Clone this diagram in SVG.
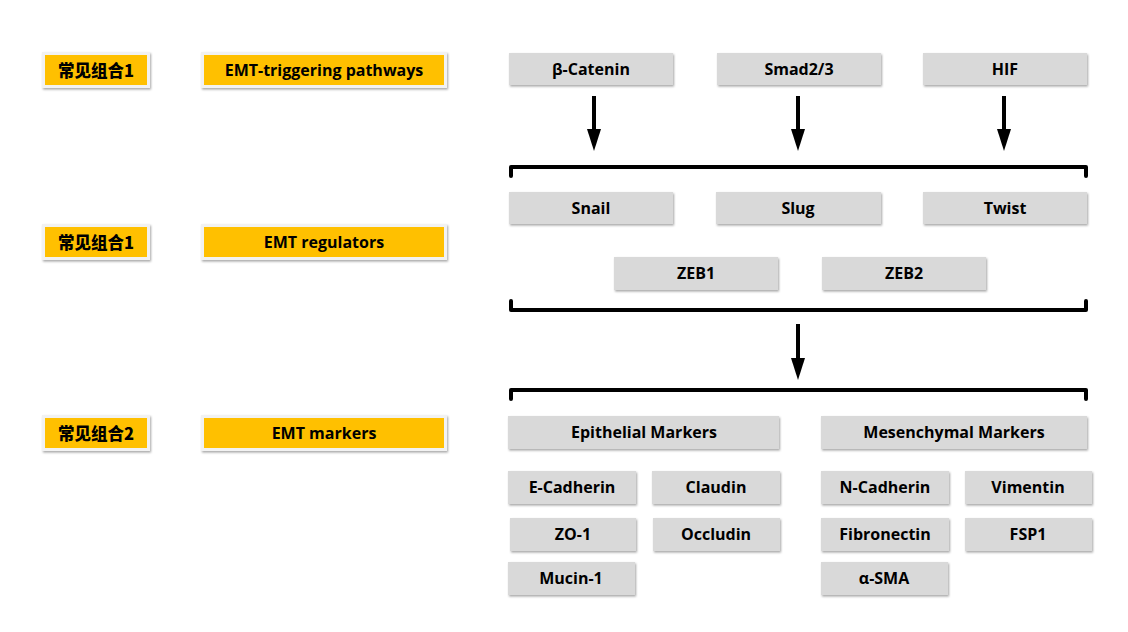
<svg xmlns="http://www.w3.org/2000/svg" width="1128" height="632" viewBox="0 0 1128 632">
<defs>
<filter id="sh" x="-10%" y="-30%" width="120%" height="160%">
<feDropShadow dx="1" dy="1.5" stdDeviation="1.2" flood-color="#000" flood-opacity="0.35"/>
</filter>
<marker id="ah" viewBox="0 0 22 14" refX="0" refY="7" markerWidth="22" markerHeight="14" markerUnits="userSpaceOnUse" orient="auto">
<path d="M0,0 L22,7 L0,14 Z" fill="#000"/>
</marker>
<style>
.g{fill:#d9d9d9;filter:url(#sh)}
.yo{fill:#f2f2f2;filter:url(#sh)}
.y{fill:#ffc000}
text{font-family:"Open Sans","Noto Sans CJK SC",sans-serif;font-weight:700;font-size:16px;fill:#000;text-anchor:middle;dominant-baseline:central}
.cn{font-family:"Noto Sans CJK SC",sans-serif;font-weight:900;font-size:16.5px}
.arr{stroke:#000;stroke-width:4;fill:none;marker-end:url(#ah)}
.br{stroke:#000;stroke-width:4;fill:none;stroke-linejoin:round;stroke-linecap:round}
</style>
</defs>

<g id="label-row1">
<rect class="yo" x="42" y="52" width="108" height="36"/><rect class="y" x="45" y="55" width="102" height="30"/>
<text class="cn" x="96" y="70">常见组合1</text>
</g>
<g id="label-pathways">
<rect class="yo" x="201" y="52" width="246" height="36"/><rect class="y" x="204" y="55" width="240" height="30"/>
<text x="324" y="70">EMT-triggering pathways</text>
</g>
<g id="label-row2">
<rect class="yo" x="42" y="224" width="108" height="36"/><rect class="y" x="45" y="227" width="102" height="30"/>
<text class="cn" x="96" y="242">常见组合1</text>
</g>
<g id="label-regulators">
<rect class="yo" x="201" y="224" width="246" height="36"/><rect class="y" x="204" y="227" width="240" height="30"/>
<text x="324" y="242">EMT regulators</text>
</g>
<g id="label-row3">
<rect class="yo" x="42" y="415" width="108" height="36"/><rect class="y" x="45" y="418" width="102" height="30"/>
<text class="cn" x="96" y="433">常见组合2</text>
</g>
<g id="label-markers">
<rect class="yo" x="201" y="415" width="246" height="36"/><rect class="y" x="204" y="418" width="240" height="30"/>
<text x="324" y="433">EMT markers</text>
</g>

<g id="n-bcatenin"><rect class="g" x="509" y="53" width="164" height="32"/><text x="591" y="69">β-Catenin</text></g>
<g id="n-smad"><rect class="g" x="717" y="53" width="164" height="32"/><text x="799" y="69">Smad2/3</text></g>
<g id="n-hif"><rect class="g" x="923" y="53" width="164" height="32"/><text x="1005" y="69">HIF</text></g>

<g id="n-snail"><rect class="g" x="509" y="192" width="164" height="32"/><text x="591" y="208">Snail</text></g>
<g id="n-slug"><rect class="g" x="716" y="192" width="165" height="32"/><text x="798" y="208">Slug</text></g>
<g id="n-twist"><rect class="g" x="923" y="192" width="164" height="32"/><text x="1005" y="208">Twist</text></g>
<g id="n-zeb1"><rect class="g" x="614" y="257" width="164" height="33"/><text x="696" y="273">ZEB1</text></g>
<g id="n-zeb2"><rect class="g" x="822" y="257" width="164" height="33"/><text x="904" y="273">ZEB2</text></g>

<g id="n-epi"><rect class="g" x="508" y="416" width="271" height="33"/><text x="644" y="432">Epithelial Markers</text></g>
<g id="n-mes"><rect class="g" x="821" y="416" width="266" height="33"/><text x="954" y="432">Mesenchymal Markers</text></g>

<g id="n-ecad"><rect class="g" x="508" y="471" width="128" height="33"/><text x="572" y="487">E-Cadherin</text></g>
<g id="n-claudin"><rect class="g" x="652" y="471" width="128" height="33"/><text x="716" y="487">Claudin</text></g>
<g id="n-ncad"><rect class="g" x="821" y="471" width="128" height="33"/><text x="885" y="487">N-Cadherin</text></g>
<g id="n-vim"><rect class="g" x="965" y="471" width="127" height="33"/><text x="1028" y="487">Vimentin</text></g>
<g id="n-zo1"><rect class="g" x="510" y="518" width="126" height="33"/><text x="573" y="534">ZO-1</text></g>
<g id="n-occ"><rect class="g" x="653" y="518" width="127" height="33"/><text x="716" y="534">Occludin</text></g>
<g id="n-fib"><rect class="g" x="821" y="518" width="128" height="33"/><text x="885" y="534">Fibronectin</text></g>
<g id="n-fsp1"><rect class="g" x="965" y="518" width="127" height="33"/><text x="1028" y="534">FSP1</text></g>
<g id="n-muc"><rect class="g" x="508" y="562" width="127" height="33"/><text x="571" y="578">Mucin-1</text></g>
<g id="n-sma"><rect class="g" x="821" y="562" width="127" height="33"/><text x="884" y="578">α-SMA</text></g>

<g id="connectors">
<line class="arr" x1="594" y1="96" x2="594" y2="129"/>
<line class="arr" x1="798" y1="96" x2="798" y2="129"/>
<line class="arr" x1="1004" y1="96" x2="1004" y2="129"/>
<path class="br" d="M511,176 V167 H1086 V176"/>
<path class="br" d="M511,301 V310 H1086 V301"/>
<line class="arr" x1="798" y1="324" x2="798" y2="358"/>
<path class="br" d="M511,399 V390 H1086 V399"/>
</g>
</svg>
